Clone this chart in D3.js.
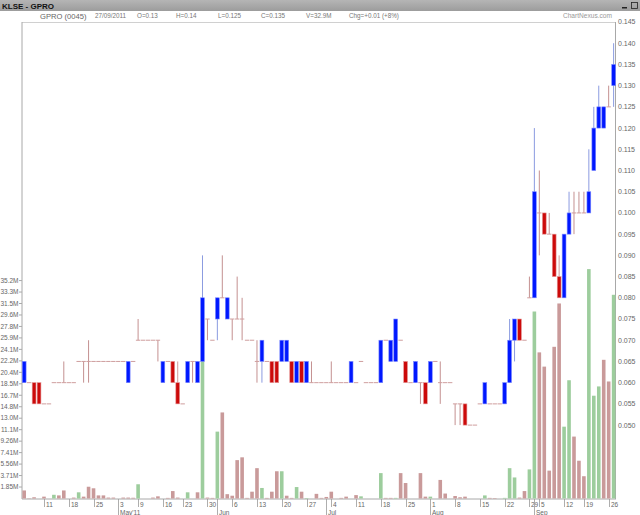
<!DOCTYPE html>
<html><head><meta charset="utf-8">
<script src="https://cdn.jsdelivr.net/npm/d3@7"></script>
<style>
body{margin:0;background:#fff;}
svg{display:block;}
text{font-family:"Liberation Sans",Arial,sans-serif;}
</style></head><body>
<svg id="c" width="640" height="515"></svg>
<script>
// ---- data (trading days 5 Apr 2011 .. 27 Sep 2011, KLSE GPRO) ----
const startDate = "2011-04-05", endDate = "2011-09-27";
const holidays = ["2011-05-02","2011-05-17","2011-08-30","2011-08-31","2011-09-01","2011-09-16"];
const openP = [
.060,.060,.060,.060,.055,.055,.060,.060,.060,.060, .060,.065,.065,.065,.065,.065,.065,.065,.065,.065,
.065,.060,.065,.070,.070,.070,.070,.070,.060,.065, .065,.060,.055,.060,.065,.060,.065,.075,.070,.075,
.080,.075,.075,.075,.075,.070,.070,.065,.065,.065, .065,.065,.065,.065,.065,.060,.065,.060,.060,.060,
.060,.060,.060,.060,.060,.060,.060,.060,.065,.060, .060,.060,.060,.070,.065,.065,.070,.065,.060,.060,
.060,.060,.060,.065,.060,.060,.060,.055,.055,.055, .050,.050,.055,.055,.055,.055,.055,.055,.060,.070,
.075,.070,.080,.080,.100,.100,.095,.095,.085,.080, .095,.100,.100,.100,.100,.110,.120,.120,.125,.130];
const highP = [
.065,.060,.060,.060,.055,.055,.060,.060,.065,.060, .060,.065,.065,.070,.065,.065,.065,.065,.065,.065,
.065,.065,.065,.075,.070,.070,.070,.070,.065,.065, .065,.065,.055,.065,.065,.065,.090,.075,.070,.080,
.090,.080,.075,.085,.080,.070,.070,.070,.070,.065, .065,.065,.070,.070,.065,.065,.065,.065,.065,.060,
.060,.060,.065,.060,.060,.060,.065,.060,.065,.060, .060,.060,.070,.070,.070,.075,.070,.065,.060,.065,
.060,.060,.065,.065,.065,.060,.060,.055,.055,.055, .050,.050,.055,.060,.055,.055,.055,.060,.075,.075,
.075,.070,.085,.120,.110,.100,.100,.095,.090,.095, .105,.105,.105,.105,.115,.125,.130,.125,.130,.140];
const lowP = [
.060,.060,.055,.055,.055,.055,.060,.060,.060,.060, .060,.065,.060,.060,.065,.065,.065,.065,.065,.065,
.065,.060,.065,.070,.070,.070,.070,.065,.060,.065, .060,.055,.055,.060,.060,.060,.065,.070,.070,.070,
.080,.075,.070,.075,.070,.070,.070,.060,.060,.065, .060,.060,.065,.065,.060,.060,.060,.060,.060,.060,
.060,.060,.060,.060,.060,.060,.060,.060,.065,.060, .060,.060,.060,.070,.065,.065,.070,.060,.060,.060,
.055,.055,.060,.065,.055,.060,.060,.050,.050,.050, .050,.050,.055,.055,.055,.055,.055,.055,.060,.065,
.070,.070,.080,.080,.090,.095,.095,.085,.080,.080, .095,.095,.100,.100,.100,.110,.120,.120,.125,.125];
const closeP = [
.065,.060,.055,.055,.055,.055,.060,.060,.060,.060, .060,.065,.065,.065,.065,.065,.065,.065,.065,.065,
.065,.065,.065,.070,.070,.070,.070,.070,.065,.065, .060,.055,.055,.065,.065,.065,.080,.075,.070,.080,
.080,.080,.075,.075,.075,.070,.070,.065,.070,.065, .060,.060,.070,.070,.060,.065,.060,.065,.060,.060,
.060,.060,.060,.060,.060,.060,.065,.060,.065,.060, .060,.060,.070,.070,.070,.075,.070,.060,.060,.065,
.060,.055,.065,.065,.060,.060,.060,.055,.055,.050, .050,.050,.055,.060,.055,.055,.055,.060,.070,.075,
.070,.070,.080,.105,.100,.095,.095,.085,.080,.095, .100,.100,.100,.100,.105,.120,.125,.125,.125,.135];
const volumeM = [
1.3,0.05,0.2,0,0.3,0,0.6,0.5,1.3,0, 0.15,1.0,0.3,1.9,1.65,0.5,0.5,0.15,0.15,0,
0.15,0.15,0.12,2.3,0,0,0.15,0.35,0,0.1, 1.2,0.15,0,1.0,0,1.0,22.2,0.15,0.1,10.8,
13.9,0.7,0.45,6.2,6.65,0.1,1.1,4.9,1.7,0.1, 1.1,4.4,4.4,0.45,0.1,1.85,1.1,0.08,0,0.75,
0.1,0.25,1.1,0,0.1,0.3,0,0.55,0.35,0, 0,0,4.1,0.1,0.1,0.1,4.1,2.5,0,0,
4.1,0.3,0.3,0,3.0,0.8,0,0.4,0.2,0.3, 0,0,0,0.5,0.1,0.08,0,0.1,4.9,3.4,
0.15,1.2,4.7,30.2,23.6,21.3,4.5,24.5,31.5,11.6, 19.1,10.0,6.1,3.6,37.05,16.6,18.1,22.4,18.9,32.9];
const priceTicks = [0.050,0.055,0.060,0.065,0.070,0.075,0.080,0.085,0.090,0.095,0.100,0.105,0.110,0.115,0.120,0.125,0.130,0.135,0.140,0.145];
const volTickLabels = ["1.85M","3.71M","5.56M","7.41M","9.26M","11.1M","13.0M","14.8M","16.7M","18.5M","20.4M","22.2M","24.1M","25.9M","27.8M","29.6M","31.5M","33.3M","35.2M"];
const volMax = 37.05;
const headerItems = ["27/09/2011","O=0.13","H=0.14","L=0.125","C=0.135","V=32.9M","Chg=+0.01 (+8%)"];

// ---- trading calendar ----
const parse = d3.utcParse("%Y-%m-%d"), fmtD = d3.utcFormat("%Y-%m-%d");
const hol = new Set(holidays);
const days = d3.utcDays(parse(startDate), d3.utcDay.offset(parse(endDate),1))
  .filter(d => d.getUTCDay()>0 && d.getUTCDay()<6 && !hol.has(fmtD(d)));
const N = days.length;

const svg = d3.select("#c");
const P = {l:21.7, r:616.1, t:22, b:498.5};
const x = d3.scaleBand().domain(d3.range(N)).range([P.l, P.r]);
const cx = i => x(i) + x.bandwidth()/2;
const y = d3.scaleLinear().domain([0.0327, 0.145]).range([P.b, P.t]);
const vy = d3.scaleLinear().domain([0, volMax]).range([P.b, 269.1]);

// ---- title bar ----
const grad = svg.append("defs").append("linearGradient").attr("id","tb").attr("x1",0).attr("x2",0).attr("y1",0).attr("y2",1);
grad.append("stop").attr("offset",0).attr("stop-color","#b5b5b5");
grad.append("stop").attr("offset",1).attr("stop-color","#9c9c9c");
svg.append("rect").attr("x",0).attr("y",0).attr("width",640).attr("height",11).attr("fill","url(#tb)");
svg.append("text").attr("x",2).attr("y",8.5).attr("font-size",8).attr("font-weight","bold").attr("fill","#111").text("KLSE - GPRO");
svg.append("rect").attr("x",622).attr("y",7).attr("width",5).attr("height",1.5).attr("fill","#222");
svg.append("rect").attr("x",631.5).attr("y",2.5).attr("width",6).attr("height",6).attr("fill","none").attr("stroke","#222").attr("stroke-width",0.8);

// ---- header ----
svg.append("text").attr("x",40).attr("y",18.5).attr("font-size",7.6).attr("fill","#666").text("GPRO (0045)");
const hx = [95,137,176,218,261,306,349];
headerItems.forEach((t,k)=> svg.append("text").attr("x",hx[k]).attr("y",18).attr("font-size",6.3).attr("fill","#777").text(t));
svg.append("text").attr("x",612).attr("y",18).attr("font-size",6.6).attr("fill","#999").attr("text-anchor","end").text("ChartNexus.com");

// ---- frame ----
const frame = svg.append("g").attr("stroke","#a8a8a8").attr("stroke-width",1).attr("fill","none");
frame.append("line").attr("x1",22).attr("x2",615.5).attr("y1",22.5).attr("y2",22.5).attr("stroke","#d0d0d0");
frame.append("line").attr("x1",22).attr("x2",22).attr("y1",22).attr("y2",499);
frame.append("line").attr("x1",615.5).attr("x2",615.5).attr("y1",22).attr("y2",499);
frame.append("line").attr("x1",22).attr("x2",616).attr("y1",499).attr("y2",499);

// ---- volume bars ----
const green="#9dcd9d", pink="#c99a9a";
const vcol = i => (i>0 && closeP[i]>closeP[i-1]) ? green : pink;
svg.append("g").selectAll("rect").data(volumeM).join("rect")
  .attr("x",(d,i)=>cx(i)-1.8).attr("width",3.6)
  .attr("y",d=>vy(d)).attr("height",d=>Math.max(0,P.b-vy(d)))
  .attr("fill",(d,i)=>vcol(i));

// ---- candles ----
const g = svg.append("g");
d3.range(N).forEach(i=>{
  const o=openP[i],h=highP[i],l=lowP[i],c=closeP[i], X=cx(i);
  if (Math.abs(o-c)<1e-9){
    if (h-l>1e-9) g.append("line").attr("x1",X).attr("x2",X).attr("y1",y(h)).attr("y2",y(l)).attr("stroke","#c49090").attr("stroke-width",1);
    g.append("line").attr("x1",X-2.2).attr("x2",X+2.2).attr("y1",y(c)).attr("y2",y(c)).attr("stroke","#cf9e9e").attr("stroke-width",1);
  } else {
    const up=c>o;
    g.append("line").attr("x1",X).attr("x2",X).attr("y1",y(h)).attr("y2",y(l)).attr("stroke",up? "#8b9be0" : "#d09a9a").attr("stroke-width",1);
    g.append("rect").attr("x",X-1.9).attr("width",3.8)
      .attr("y",y(Math.max(o,c))).attr("height",Math.abs(y(o)-y(c)))
      .attr("fill", up? "#0018ff":"#cc0a0a")
      .attr("stroke", up? "#7a88ff":"#e59a9a").attr("stroke-width",0.6);
  }
});

// ---- right price axis ----
svg.append("g").selectAll("text").data(priceTicks).join("text")
  .attr("x",618).attr("y",d=>y(d)).attr("dy","0.35em")
  .attr("font-size",7).attr("fill","#666").text(d=>d3.format(".3f")(d));

// ---- left volume axis ----
const vg = svg.append("g");
volTickLabels.forEach((t,k)=>{
  const v=(k+1)*volMax/20;
  vg.append("text").attr("x",18.5).attr("y",vy(v)).attr("dy","0.35em").attr("text-anchor","end")
    .attr("font-size",6.5).attr("fill","#666").text(t);
  vg.append("line").attr("x1",19).attr("x2",22).attr("y1",vy(v)).attr("y2",vy(v)).attr("stroke","#aaa");
});

// ---- bottom date axis ----
const ax = svg.append("g");
const monthFmt = d3.utcFormat("%b");
let seenMonth = false;
days.forEach((d,i)=>{
  if(i===0) return;
  const p=days[i-1];
  const newWeek = d.getUTCDay() <= p.getUTCDay();
  const newMonth = d.getUTCMonth() !== p.getUTCMonth();
  const X = Math.round(cx(i))+0.5;
  if(newWeek||newMonth){
    ax.append("line").attr("x1",X).attr("x2",X).attr("y1",499).attr("y2",newMonth?515:507).attr("stroke","#999").attr("stroke-width",0.8);
  }
  if(newWeek){
    ax.append("text").attr("x",X+1.5).attr("y",506.5).attr("font-size",6.5).attr("fill","#666").text(d.getUTCDate());
  }
  if(newMonth){
    ax.append("text").attr("x",X+1.5).attr("y",514.5).attr("font-size",6.5).attr("fill","#666")
      .text(monthFmt(d) + (!seenMonth ? "'" + d3.utcFormat("%y")(d) : ""));
    seenMonth = true;
  }
});
</script>
</body></html>
